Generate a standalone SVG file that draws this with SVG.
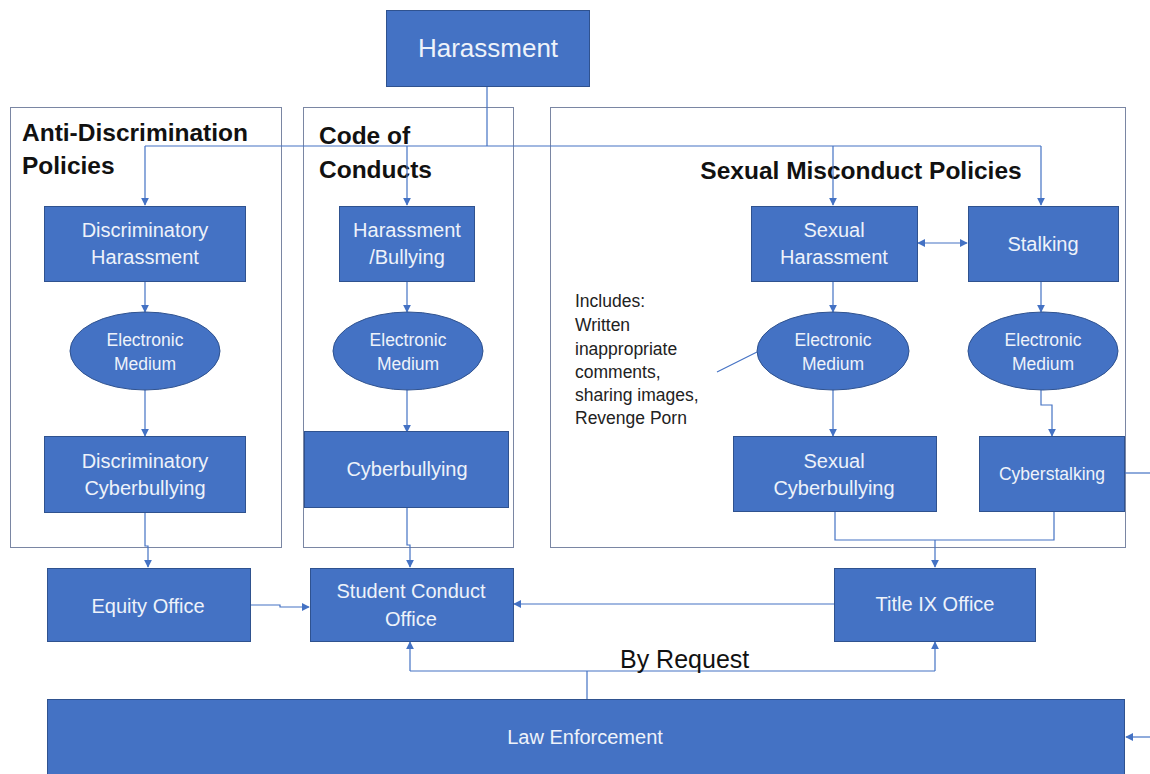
<svg xmlns="http://www.w3.org/2000/svg" width="1150" height="774" viewBox="0 0 1150 774">
<style>
.box{fill:#4472C4;stroke:#2F528F;stroke-width:1}
.cont{fill:none;stroke:#7a86a3;stroke-width:1}
.t{font-family:"Liberation Sans",Arial,sans-serif;fill:#eef2fa;text-anchor:middle}
.n{font-size:20px}
.s{font-size:17.5px}
.h{font-family:"Liberation Sans",Arial,sans-serif;font-weight:bold;font-size:24.5px;fill:#111}
.c{fill:none;stroke:#4472C4;stroke-width:1.2}
.note{font-family:"Liberation Sans",Arial,sans-serif;font-size:17.5px;fill:#222}
</style>
<defs>
<marker id="a" viewBox="0 0 10 10" refX="9" refY="5" markerWidth="8" markerHeight="8" markerUnits="userSpaceOnUse" orient="auto-start-reverse">
<path d="M0,0 L10,5 L0,10 z" fill="#4472C4"/>
</marker>
</defs>
<rect width="1150" height="774" fill="#fff"/>

<g id="containers">
<rect class="cont" x="10.5" y="107.5" width="271" height="440"/>
<rect class="cont" x="303.5" y="107.5" width="210" height="440"/>
<rect class="cont" x="550.5" y="107.5" width="575" height="440"/>
<text class="h" x="22" y="141">Anti-Discrimination</text>
<text class="h" x="22" y="174">Policies</text>
<text class="h" x="319" y="144">Code of</text>
<text class="h" x="319" y="178">Conducts</text>
<text class="h" x="861" y="179" text-anchor="middle">Sexual Misconduct Policies</text>
</g>

<g id="connectors">
<path class="c" d="M487,86 V146 M145,146 H1041"/>
<path class="c" d="M145,146 V205" marker-end="url(#a)"/>
<path class="c" d="M407,146 V205" marker-end="url(#a)"/>
<path class="c" d="M833,146 V205" marker-end="url(#a)"/>
<path class="c" d="M1041,146 V205" marker-end="url(#a)"/>
<path class="c" d="M145,281 V312" marker-end="url(#a)"/>
<path class="c" d="M145,390 V436" marker-end="url(#a)"/>
<path class="c" d="M145,512 V546 H148 V567" marker-end="url(#a)"/>
<path class="c" d="M407,281 V312" marker-end="url(#a)"/>
<path class="c" d="M407,389 V432" marker-end="url(#a)"/>
<path class="c" d="M407,507 V545 H410 V567" marker-end="url(#a)"/>
<path class="c" d="M833,281 V312" marker-end="url(#a)"/>
<path class="c" d="M833,390 V436" marker-end="url(#a)"/>
<path class="c" d="M1041,281 V312" marker-end="url(#a)"/>
<path class="c" d="M1041,390 V405 H1052 V436" marker-end="url(#a)"/>
<path class="c" d="M918,243 H967" marker-start="url(#a)" marker-end="url(#a)"/>
<path class="c" d="M835,511 V540 H1054 V511"/>
<path class="c" d="M935,540 V567" marker-end="url(#a)"/>
<path class="c" d="M250,605 H280 V607 H309" marker-end="url(#a)"/>
<path class="c" d="M834,604 H514" marker-end="url(#a)"/>
<path class="c" d="M587,699 V671 M410,671 H935"/>
<path class="c" d="M410,671 V642" marker-end="url(#a)"/>
<path class="c" d="M935,671 V642" marker-end="url(#a)"/>
<path class="c" d="M1124,473 H1150"/>
<path class="c" d="M1150,737 H1126" marker-end="url(#a)"/>
<path class="c" d="M717,372 L757,352"/>
</g>

<g id="harassment"><rect class="box" x="386.5" y="10.5" width="203" height="76"/><text class="t" x="488" y="57" font-size="26">Harassment</text></g>
<g id="disc-harassment"><rect class="box" x="44.5" y="206.5" width="201" height="75"/><text class="t n" x="145" y="237">Discriminatory</text><text class="t n" x="145" y="264">Harassment</text></g>
<g id="harass-bullying"><rect class="box" x="339.5" y="206.5" width="135" height="75"/><text class="t n" x="407" y="237">Harassment</text><text class="t n" x="407" y="264">/Bullying</text></g>
<g id="sexual-harassment"><rect class="box" x="751.5" y="206.5" width="166" height="75"/><text class="t n" x="834" y="237">Sexual</text><text class="t n" x="834" y="264">Harassment</text></g>
<g id="stalking"><rect class="box" x="968.5" y="206.5" width="150" height="75"/><text class="t n" x="1043" y="251">Stalking</text></g>

<g id="em1"><ellipse class="box" cx="145" cy="351" rx="75" ry="39"/><text class="t s" x="145" y="346">Electronic</text><text class="t s" x="145" y="370">Medium</text></g>
<g id="em2"><ellipse class="box" cx="408" cy="351" rx="75" ry="39"/><text class="t s" x="408" y="346">Electronic</text><text class="t s" x="408" y="370">Medium</text></g>
<g id="em3"><ellipse class="box" cx="833" cy="351" rx="76" ry="39"/><text class="t s" x="833" y="346">Electronic</text><text class="t s" x="833" y="370">Medium</text></g>
<g id="em4"><ellipse class="box" cx="1043" cy="351" rx="75" ry="39"/><text class="t s" x="1043" y="346">Electronic</text><text class="t s" x="1043" y="370">Medium</text></g>

<g id="disc-cyber"><rect class="box" x="44.5" y="436.5" width="201" height="76"/><text class="t n" x="145" y="468">Discriminatory</text><text class="t n" x="145" y="495">Cyberbullying</text></g>
<g id="cyberbullying"><rect class="box" x="304.5" y="431.5" width="204" height="76"/><text class="t n" x="407" y="476">Cyberbullying</text></g>
<g id="sexual-cyber"><rect class="box" x="733.5" y="436.5" width="203" height="75"/><text class="t n" x="834" y="468">Sexual</text><text class="t n" x="834" y="495">Cyberbullying</text></g>
<g id="cyberstalking"><rect class="box" x="979.5" y="436.5" width="145" height="75"/><text class="t s" x="1052" y="480">Cyberstalking</text></g>

<g id="note"><text class="note" x="575" y="307">Includes:</text><text class="note" x="575" y="331">Written</text><text class="note" x="575" y="355">inappropriate</text><text class="note" x="575" y="378">comments,</text><text class="note" x="575" y="401">sharing images,</text><text class="note" x="575" y="424">Revenge Porn</text></g>

<g id="equity"><rect class="box" x="47.5" y="568.5" width="203" height="73"/><text class="t n" x="148" y="613">Equity Office</text></g>
<g id="student-conduct"><rect class="box" x="310.5" y="568.5" width="203" height="73"/><text class="t n" x="411" y="598">Student Conduct</text><text class="t n" x="411" y="626">Office</text></g>
<g id="title-ix"><rect class="box" x="834.5" y="568.5" width="201" height="73"/><text class="t n" x="935" y="611">Title IX Office</text></g>
<text x="620" y="668" font-family="'Liberation Sans',Arial,sans-serif" font-size="25" fill="#111">By Request</text>
<g id="law"><rect class="box" x="47.5" y="699.5" width="1077" height="80"/><text class="t n" x="585" y="744">Law Enforcement</text></g>
</svg>
